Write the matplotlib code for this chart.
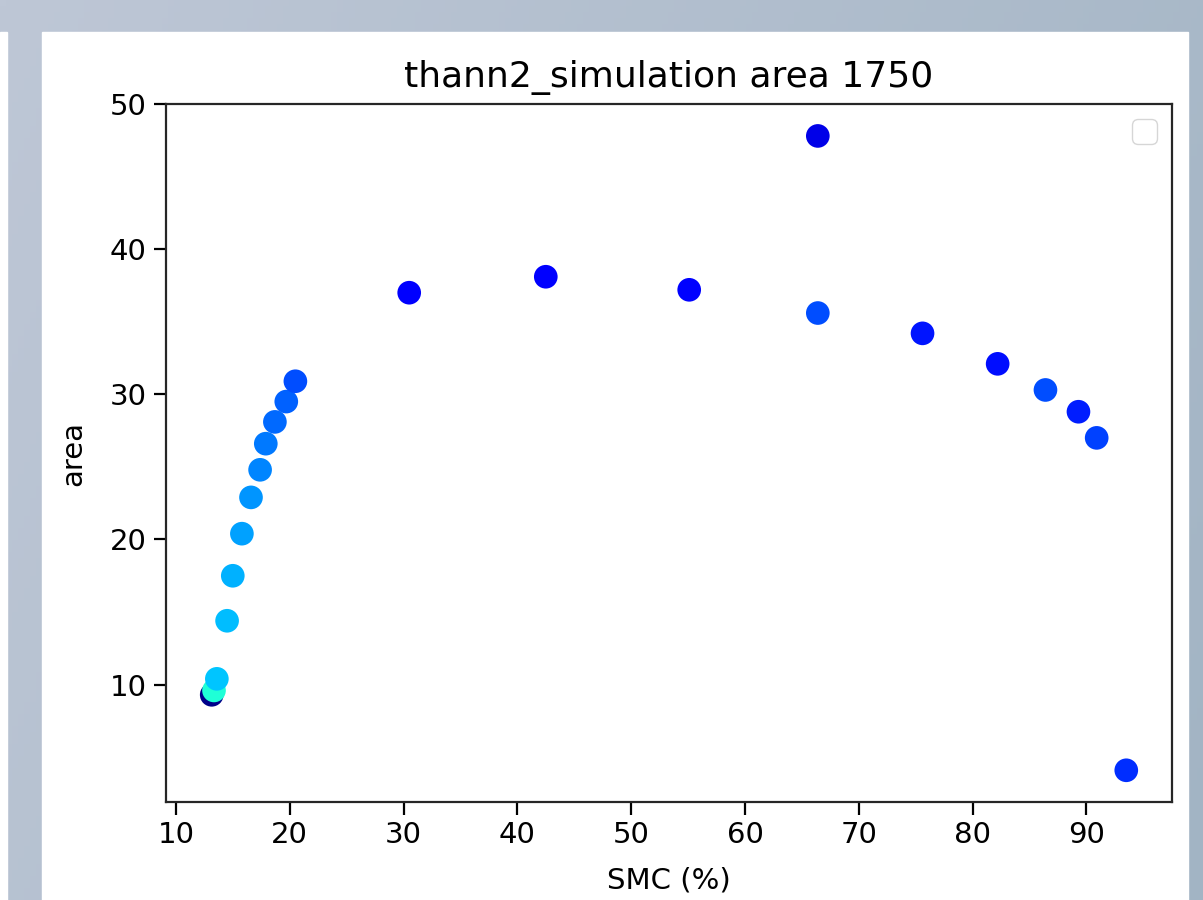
import matplotlib

matplotlib.use("Agg")
import matplotlib.pyplot as plt
import numpy as np
from matplotlib.patches import Rectangle

# Values.
smc = [13.15, 13.35, 13.6, 14.5, 15.0, 15.8, 16.6, 17.4, 17.9, 18.7, 19.7, 20.5,
       30.5, 42.5, 55.1, 66.4, 66.4, 75.6, 82.2, 86.4, 89.3, 90.9, 93.5]
area = [9.3, 9.6, 10.4, 14.4, 17.5, 20.4, 22.9, 24.8, 26.6, 28.1, 29.5, 30.9,
        37.0, 38.1, 37.2, 47.8, 35.6, 34.2, 32.1, 30.3, 28.8, 27.0, 4.1]
# third variable used for colouring (jet colormap, 0..1)
shade = [0.01, 0.39, 0.32, 0.31, 0.30, 0.285, 0.27, 0.255, 0.245, 0.23, 0.22, 0.20,
         0.12, 0.12, 0.125, 0.09, 0.20, 0.145, 0.14, 0.20, 0.155, 0.19, 0.17]
title = "thann2_simulation area 1750"

fig = plt.figure(figsize=(12.03, 9.0), dpi=100)

# screenshot-like background: grey-blue gradient with a white panel
bg = fig.add_axes([0, 0, 1, 1], zorder=-10)
gx, gy = np.meshgrid(np.linspace(0, 1, 200), np.linspace(0, 1, 150))
t = np.clip(0.75 * gx + 0.25 * gy, 0, 1)
c0 = np.array([190, 199, 214]) / 255.0
c1 = np.array([162, 180, 196]) / 255.0
grad = c0[None, None, :] * (1 - t[..., None]) + c1[None, None, :] * t[..., None]
bg.imshow(grad, extent=[0, 1203, 900, 0], aspect="auto")
bg.add_patch(Rectangle((42, 32), 1146, 868, color="white"))
bg.add_patch(Rectangle((0, 32), 7, 868, color="white"))
bg.set_xlim(0, 1203); bg.set_ylim(900, 0)
bg.axis("off")

ax = fig.add_axes([166 / 1203, 98 / 900, 1006 / 1203, 698 / 900])
ax.scatter(smc, area, c=shade, cmap="jet", vmin=0, vmax=1, s=290, edgecolors="none")
ax.set_title(title, fontsize=26, pad=12)
ax.set_xlabel("SMC (%)", fontsize=21, labelpad=12)
ax.set_ylabel("area", fontsize=21, labelpad=16)
ax.tick_params(labelsize=21, length=9, width=1.6, pad=5)
for sp in ax.spines.values():
    sp.set_linewidth(1.6)
    sp.set_color("#262626")
ax.set_yticks([10, 20, 30, 40, 50])
ax.legend(fontsize=22)

fig.savefig("out.png", dpi=100)
